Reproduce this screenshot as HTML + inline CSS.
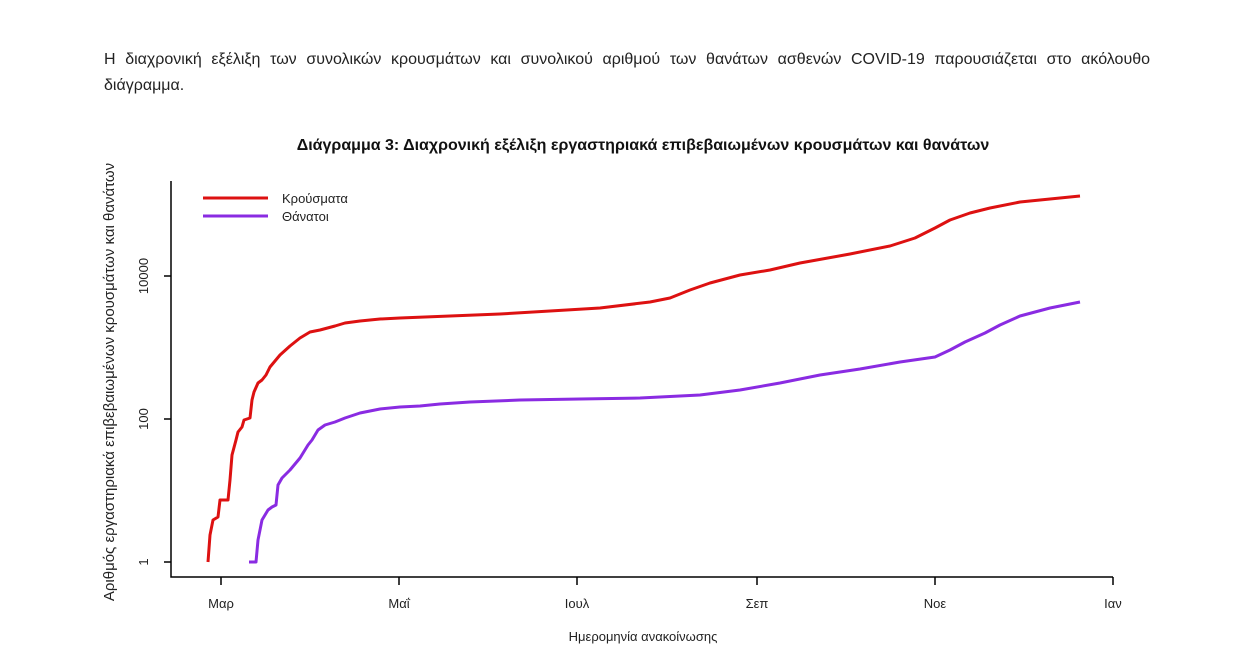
<!DOCTYPE html>
<html><head><meta charset="utf-8"><style>
body{margin:0;background:#fff;width:1260px;height:665px;overflow:hidden;font-family:"Liberation Sans","DejaVu Sans",sans-serif;}
.p{position:absolute;left:104px;top:47px;width:1046px;font-size:16px;line-height:26px;color:#222;text-align:justify;}
svg{position:absolute;left:0;top:0}
</style></head><body>
<div class="p">Η διαχρονική εξέλιξη των συνολικών κρουσμάτων και συνολικού αριθμού των θανάτων ασθενών COVID-19 παρουσιάζεται στο ακόλουθο διάγραμμα.</div>
<svg width="1260" height="665" font-family="Liberation Sans, DejaVu Sans, sans-serif">
<text x="643" y="150" text-anchor="middle" font-size="16" font-weight="bold" fill="#111">Διάγραμμα 3: Διαχρονική εξέλιξη εργαστηριακά επιβεβαιωμένων κρουσμάτων και θανάτων</text>
<g stroke="#000" stroke-width="1.5" fill="none">
<path d="M171,181 V577 H1113"/>
<path d="M164,562 H171 M164,419 H171 M164,276 H171"/>
<path d="M221,577 v8 M399,577 v8 M577,577 v8 M757,577 v8 M935,577 v8 M1113,577 v8"/>
</g>
<g font-size="13" fill="#222" text-anchor="middle">
<text transform="translate(148,562) rotate(-90)">1</text>
<text transform="translate(148,419) rotate(-90)">100</text>
<text transform="translate(148,276) rotate(-90)">10000</text>
<text x="221" y="608">Μαρ</text><text x="399" y="608">Μαΐ</text><text x="577" y="608">Ιουλ</text>
<text x="757" y="608">Σεπ</text><text x="935" y="608">Νοε</text><text x="1113" y="608">Ιαν</text>
<text x="643" y="641">Ημερομηνία ανακοίνωσης</text>
<text transform="translate(114,382) rotate(-90)" font-size="15">Αριθμός εργαστηριακά επιβεβαιωμένων κρουσμάτων και θανάτων</text>
</g>
<g fill="none" stroke-width="3" stroke-linejoin="round">
<path stroke="#dd1111" d="M208,562 L210,535 213,520 218,517 220,500 228,500 230,480 232,455 236,440 238,432 242,427 244,420 250,418 252,400 254,392 258,383 262,380 266,375 270,367 280,355 290,346 300,338 310,332 320,330 335,326 345,323 360,321 380,319 400,318 450,316 500,314 550,311 600,308 650,302 670,298 690,290 710,283 740,275 770,270 800,263 850,254 890,246 915,238 935,228 950,220 970,213 990,208 1020,202 1050,199 1080,196"/>
<path stroke="#8a2be2" d="M249,562 L256,562 258,540 262,520 265,515 268,510 272,507 276,505 278,485 282,478 290,470 300,458 308,445 312,440 318,430 325,425 335,422 345,418 360,413 380,409 400,407 420,406 440,404 470,402 520,400 580,399 640,398 700,395 740,390 780,383 820,375 860,369 900,362 935,357 950,350 965,342 985,333 1000,325 1020,316 1050,308 1080,302"/>
<path stroke="#dd1111" d="M203,198 H268"/>
<path stroke="#8a2be2" d="M203,216 H268"/>
</g>
<text x="282" y="203" font-size="13" fill="#222">Κρούσματα</text>
<text x="282" y="221" font-size="13" fill="#222">Θάνατοι</text>
</svg>
</body></html>
